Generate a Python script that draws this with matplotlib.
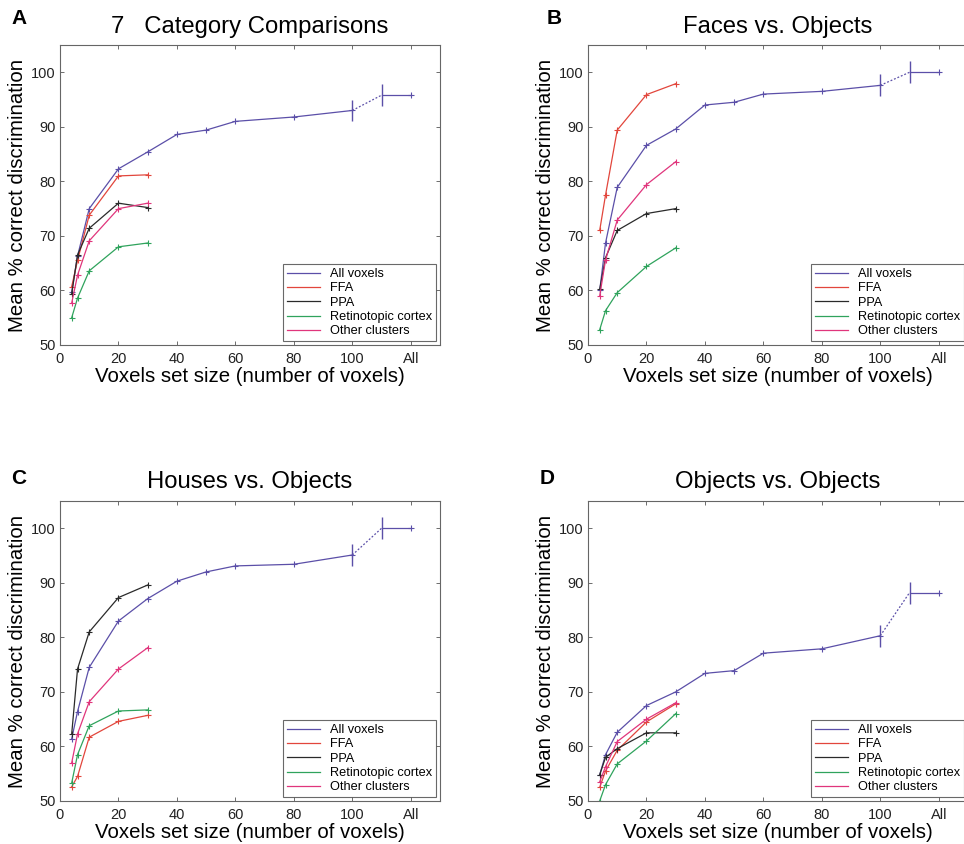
import matplotlib.pyplot as plt
import numpy as np

plt.rcParams["font.family"] = ["Liberation Sans", "DejaVu Sans"]

### Data
sizes = [4, 6, 10, 20, 30]
sizes_all = [4, 6, 10, 20, 30, 40, 50, 60, 80, 100]
x_all_err = 110
x_all_end = 120
all_err = 2.0

titles = ["7   Category Comparisons", "Faces vs. Objects", "Houses vs. Objects", "Objects vs. Objects"]
letters = ["A", "B", "C", "D"]
series_names = ["All voxels", "FFA", "PPA", "Retinotopic cortex", "Other clusters"]
xtick_pos = [0, 20, 40, 60, 80, 100, 120]
xtick_labels = ["0", "20", "40", "60", "80", "100", "All"]
ytick_pos = [50, 60, 70, 80, 90, 100]

# panel A: 7 category comparisons
all_a = [59.7, 66.3, 75.0, 82.3, 85.4, 88.6, 89.4, 91.0, 91.8, 93.0]
all_a_full = 95.8
ffa_a = [60.7, 65.5, 73.8, 81.0, 81.2]
ppa_a = [59.4, 66.5, 71.4, 76.0, 75.2]
ret_a = [55.0, 58.6, 63.6, 68.0, 68.7]
oth_a = [57.7, 62.8, 69.1, 75.0, 76.0]

# panel B: faces vs objects
all_b = [60.0, 68.7, 78.9, 86.6, 89.6, 94.0, 94.5, 96.0, 96.5, 97.6]
all_b_full = 100.0
ffa_b = [71.0, 77.5, 89.4, 95.9, 97.9]
ppa_b = [60.2, 66.0, 71.0, 74.1, 75.0]
ret_b = [52.8, 56.3, 59.6, 64.4, 67.8]
oth_b = [59.0, 65.6, 72.9, 79.4, 83.6]

# panel C: houses vs objects
all_c = [61.4, 66.4, 74.5, 83.0, 87.1, 90.3, 92.0, 93.1, 93.4, 95.1]
all_c_full = 100.0
ffa_c = [52.6, 54.5, 61.7, 64.6, 65.7]
ppa_c = [62.3, 74.2, 81.0, 87.3, 89.6]
ret_c = [53.3, 58.5, 63.8, 66.5, 66.7]
oth_c = [57.0, 62.3, 68.2, 74.2, 78.1]

# panel D: objects vs objects
all_d = [54.8, 58.5, 62.6, 67.5, 70.0, 73.4, 73.9, 77.1, 77.9, 80.3]
all_d_full = 88.2
ffa_d = [52.5, 55.5, 59.3, 64.5, 67.8]
ppa_d = [54.8, 58.0, 59.6, 62.5, 62.5]
ret_d = [50.0, 53.0, 56.8, 61.0, 66.0]
oth_d = [53.5, 56.3, 60.9, 65.0, 68.0]

colors = ["#5b4fa8", "#e2463c", "#2a2a2a", "#2fa35c", "#e0357c"]


def plot_panel(ax, all_vals, all_full, rois, title):
    """Draw one panel: all-voxel curve with error bars + ROI curves."""
    lw = 0.9
    ax.plot(sizes_all, all_vals, color=colors[0], lw=lw, marker="+", ms=4.5, mew=0.8)
    # dotted link to the "All" estimate
    ax.plot([sizes_all[-1], x_all_err], [all_vals[-1], all_full],
            color=colors[0], lw=lw, ls=(0, (1.5, 1.5)))
    ax.plot([x_all_err, x_all_end], [all_full, all_full], color=colors[0], lw=lw)
    ax.plot([x_all_end], [all_full], color=colors[0], marker="+", ms=4.5, mew=0.8)
    ax.errorbar([sizes_all[-1], x_all_err], [all_vals[-1], all_full],
                yerr=all_err, fmt="none", ecolor=colors[0], elinewidth=1.0, capsize=0)
    for vals, c in zip(rois, colors[1:]):
        ax.plot(sizes, vals, color=c, lw=lw, marker="+", ms=4.5, mew=0.8)

    # legend proxies
    handles = [plt.Line2D([], [], color=c, lw=lw) for c in colors]
    leg = ax.legend(handles, series_names, loc="lower right", fontsize=9.2,
                    frameon=True, fancybox=False, borderpad=0.3, labelspacing=0.18,
                    handlelength=2.6, handletextpad=0.8, borderaxespad=0.3)
    leg.get_frame().set_edgecolor("#444444")
    leg.get_frame().set_linewidth(0.8)

    ax.set_xlim(0, 130)
    ax.set_ylim(50, 105)
    ax.set_xticks(xtick_pos)
    ax.set_xticklabels(xtick_labels)
    ax.set_yticks(ytick_pos)
    ax.tick_params(direction="in", top=True, right=True, labelsize=10.5,
                   length=3, width=0.6, colors="#555555", labelcolor="#222222")
    ax.tick_params(axis="y", pad=3)
    ax.tick_params(axis="x", pad=5)
    for s in ax.spines.values():
        s.set_color("#666666")
        s.set_linewidth(0.8)
    ax.set_xlabel("Voxels set size (number of voxels)", fontsize=14.7, labelpad=1)
    ax.set_ylabel("Mean % correct discrimination", fontsize=14.7, labelpad=3)
    ax.set_title(title, fontsize=17.2, pad=9)


W, H = 964, 844
fig = plt.figure(figsize=(W / 100, H / 100), dpi=100)

# axes boxes in pixels: left, top (each 380 x 300)
boxes = [(60, 45), (588, 45), (60, 501), (588, 501)]
# panel letter positions in pixels: left, top
letter_pos = [(11, 9), (547, 9), (11, 469), (540, 469)]
panel_data = [
    (all_a, all_a_full, [ffa_a, ppa_a, ret_a, oth_a]),
    (all_b, all_b_full, [ffa_b, ppa_b, ret_b, oth_b]),
    (all_c, all_c_full, [ffa_c, ppa_c, ret_c, oth_c]),
    (all_d, all_d_full, [ffa_d, ppa_d, ret_d, oth_d]),
]
for (left, top), (av, af, rois), title in zip(boxes, panel_data, titles):
    ax = fig.add_axes([left / W, 1 - (top + 300) / H, 380 / W, 300 / H])
    plot_panel(ax, av, af, rois, title)

for (lx, ly), letter in zip(letter_pos, letters):
    fig.text(lx / W, 1 - ly / H, letter, fontsize=15, fontweight="bold",
             va="top", ha="left")

fig.savefig("out.png", dpi=100)
